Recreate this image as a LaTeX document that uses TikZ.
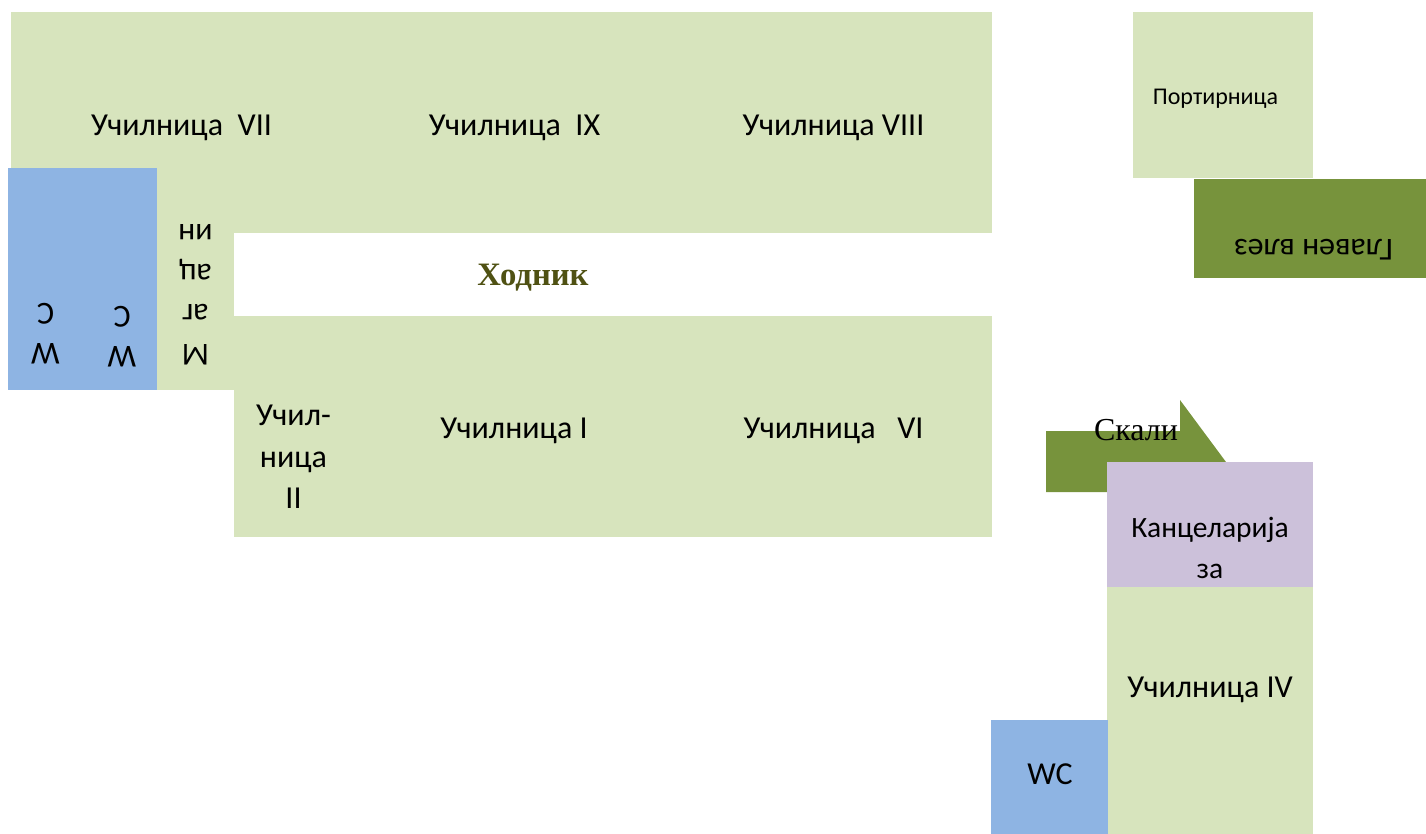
\documentclass[tikz,border=0pt]{standalone}
\usepackage{fontspec}
\setmainfont{Carlito}
\newfontfamily\serifcyr{Liberation Serif}
\definecolor{roomgreen}{HTML}{D7E4BD}
\definecolor{olivefill}{HTML}{77933C}
\definecolor{wcblue}{HTML}{8EB4E3}
\definecolor{officelilac}{HTML}{CCC1DA}
\definecolor{hallink}{HTML}{4F5113}
\tikzset{
  x=1pt,y=-1pt,
  roomfill/.style={fill=roomgreen,draw=none},
  olivearea/.style={fill=olivefill,draw=none},
  wcarea/.style={fill=wcblue,draw=none},
  officearea/.style={fill=officelilac,draw=none},
  label/.style={font=\fontsize{32}{38}\selectfont,text=black,inner sep=0pt,align=center},
  smalllabel/.style={font=\fontsize{24}{29}\selectfont,text=black,inner sep=0pt,align=center},
  flipped/.style={label,rotate=180},
  hall/.style={font=\serifcyr\bfseries\fontsize{32.7}{38}\selectfont,text=hallink,inner sep=0pt},
  stairs/.style={font=\serifcyr\fontsize{32}{38}\selectfont,text=black,inner sep=0pt}
}
\begin{document}
\begin{tikzpicture}
\useasboundingbox (0,0) rectangle (1426,834);
% green wing
\fill[roomfill] (11,12) rectangle (992,233);
\fill[roomfill] (157,233) rectangle (234,390);
\fill[roomfill] (234,316) rectangle (992,537);
% west WC
\fill[wcarea] (8,168) rectangle (157,390);
% gate lodge and entrance
\fill[roomfill] (1133,12) rectangle (1313,178);
\fill[olivearea] (1194,179) rectangle (1426,278);
% stairs arrow
\fill[olivearea] (1046,431) -- (1180,431) -- (1180,400) -- (1226,462) -- (1226,492) -- (1046,492) -- cycle;
% east block
\fill[officearea] (1107,462) rectangle (1313,587);
\fill[roomfill] (1107,587) rectangle (1313,834);
\fill[wcarea] (991,720) rectangle (1108,834);
% labels
\node[label] (r7) at (181.5,128) {Училница\ \ VII};
\node[label] (r9) at (514.5,128) {Училница\ \ IX};
\node[label] (r8) at (833.5,128) {Училница VIII};
\node[label] (r1) at (514,431) {Училница I};
\node[label] (r6) at (833.5,431) {Училница\ \ \ VI};
\node[label,font=\fontsize{32}{41.5}\selectfont] (r2) at (293.5,457) {Учил-\\ница\\II};
\node[label] (r4) at (1210,690) {Училница IV};
\node[label,font=\fontsize{29.5}{41.5}\selectfont] (office) at (1210,548) {Канцеларија\\за};
\node[label] (wc2) at (1050,774) {WC};
\node[smalllabel] (lodge) at (1215.5,98.5) {Портирница};
\node[flipped,font=\fontsize{32}{38}\selectfont] (entry) at (1313.5,250) {Главен влез};
\node[hall] (hall) at (533,278) {Ходник};
\node[stairs] (st) at (1136,430) {Скали};
\node[flipped,font=\fontsize{32}{40}\selectfont] (wca) at (45.5,334) {W\\C};
\node[flipped,font=\fontsize{32}{40}\selectfont] (wcb) at (122,337) {W\\C};
\node[flipped,font=\fontsize{32}{40}\selectfont] (store) at (195.5,295) {М\\аг\\ац\\ин};
\end{tikzpicture}
\end{document}
